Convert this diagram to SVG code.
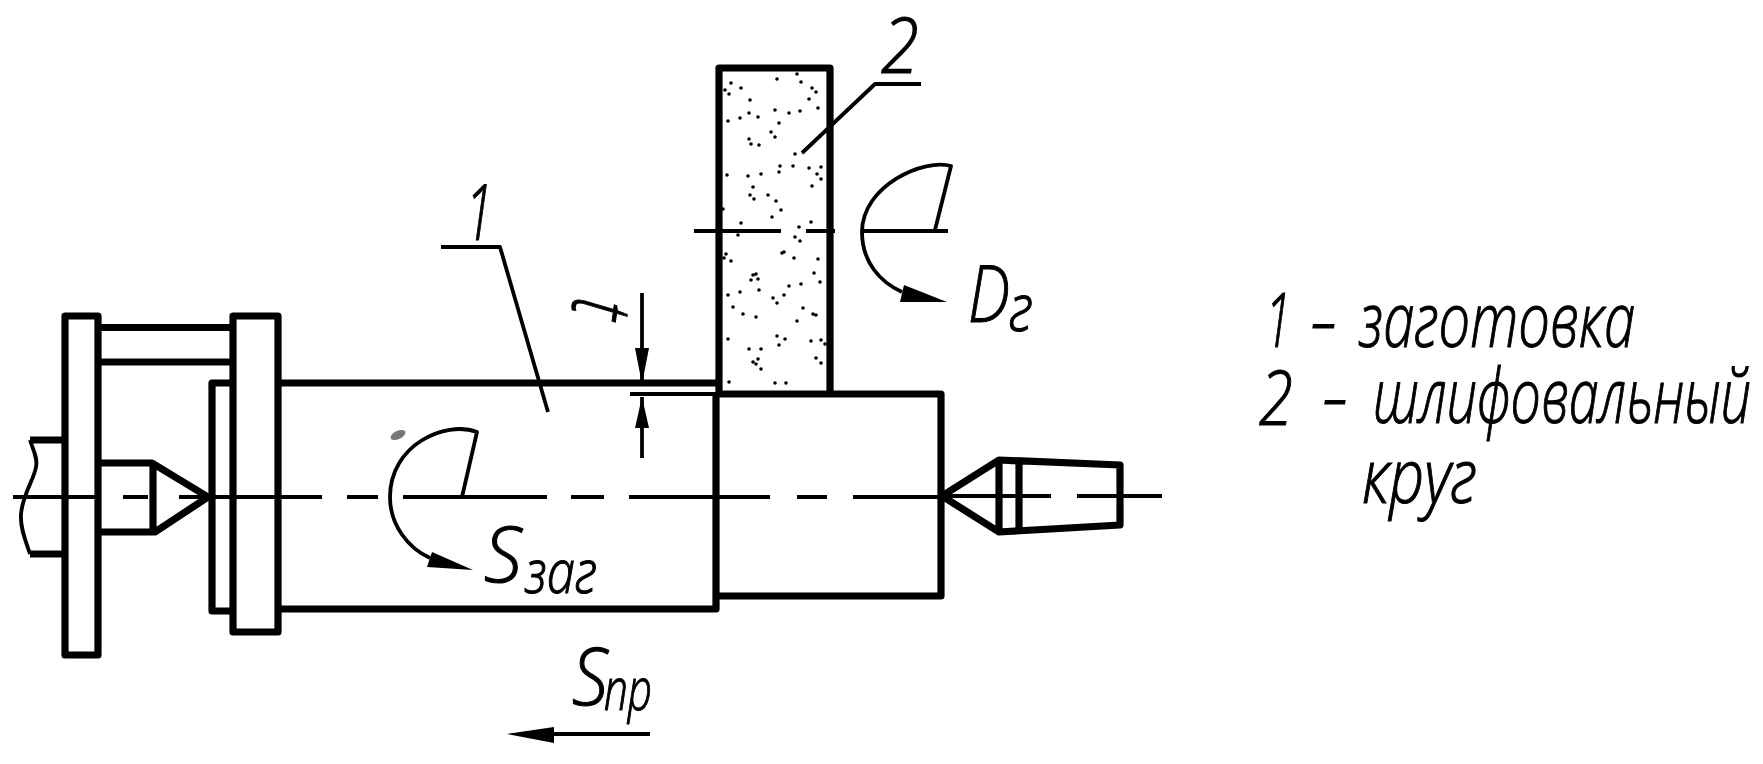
<svg xmlns="http://www.w3.org/2000/svg" width="1763" height="764" viewBox="0 0 1763 764">
<style>
.k{fill:none;stroke:#000;stroke-width:7.200;stroke-linejoin:round;stroke-linecap:butt}
.t{fill:none;stroke:#000;stroke-width:3.800;stroke-linecap:butt;stroke-linejoin:round}
.h{fill:#000;stroke:none}
text{font-family:"Open Sans","Liberation Sans","DejaVu Sans",sans-serif;font-style:italic;font-weight:300;fill:#000;stroke:#000;stroke-width:1.100}
</style>
<rect width="1763" height="764" fill="#fff"/>
<g id="spindle">
<path class="k" d="M62 440H30M62 554H30"/>
<path class="t" d="M30 440C33 450 38 458 36 467C34 480 22 495 21 515C20 528 26 542 30 554"/>
</g>
<g id="plate-left"><rect class="k" x="65" y="316" width="33" height="339"/></g>
<g id="bars"><path class="k" d="M101 327.500H230M101 362H230"/></g>
<g id="center-left"><path class="k" d="M98 463H152L208 497L155 532H98M153 463V532"/></g>
<g id="collar"><path class="k" d="M230 383H212V611H230"/></g>
<g id="plate-right"><rect class="k" x="233" y="316" width="45" height="316"/></g>
<g id="workpiece"><path class="k" d="M281 383H716M716 396V609H281"/></g>
<g id="ground-part"><path class="k" d="M716 394H941V596H716"/></g>
<g id="wheel">
<path class="k" d="M719 394V68H830V394"/>
<path fill="none" stroke="#000" stroke-width="3.600" stroke-linecap="round" d="M731 83h.01M725 90h.01M729 94h.01M741 88h.01M777 79h.01M797 74h.01M801 82h.01M812 88h.01M816 92h.01M809 99h.01M818 108h.01M750 100h.01M749 113h.01M758 117h.01M775 110h.01M789 113h.01M800 111h.01M740 118h.01M728 121h.01M779 123h.01M771 132h.01M775 137h.01M749 139h.01M751 144h.01M759 145h.01M795 154h.01M780 166h.01M779 172h.01M793 166h.01M809 168h.01M821 167h.01M817 174h.01M821 179h.01M812 186h.01M727 175h.01M748 176h.01M761 174h.01M753 187h.01M750 195h.01M754 199h.01M768 195h.01M776 201h.01M781 210h.01M772 217h.01M723 209h.01M741 223h.01M811 222h.01M799 227h.01M795 237h.01M800 241h.01M738 235h.01M784 252h.01M782 253h.01M794 258h.01M818 259h.01M726 254h.01M724 258h.01M731 261h.01M814 273h.01M753 275h.01M756 274h.01M758 279h.01M751 280h.01M820 282h.01M801 284h.01M789 286h.01M759 290h.01M784 295h.01M740 292h.01M728 295h.01M773 298h.01M777 303h.01M733 307h.01M743 314h.01M756 317h.01M803 308h.01M813 314h.01M816 315h.01M797 321h.01M777 336h.01M785 339h.01M779 345h.01M728 339h.01M811 341h.01M821 340h.01M825 344h.01M749 349h.01M761 349h.01M753 362h.01M758 359h.01M756 364h.01M761 369h.01M816 358h.01M821 363h.01M729 382h.01M775 383h.01M786 383h.01"/>
</g>
<g id="center-right">
<path class="k" d="M942 496L999 460L1120 465V525L999 532ZM999 460V532M1019 461V531"/>
</g>
<g id="connectors">
<path class="t" d="M13 497H95M123 497H148M179 497H322M347 497H378M403 497H547M571 497H604M629 497H770M797 497H827M853 497H942M942 496H1051M1077 496H1162"/>
<path class="t" d="M694 231H781M806 231H835M862 231H948"/>
<path class="t" d="M921 84H875L802 153"/>
<path class="t" d="M441 247H500L548 412"/>
<path class="t" d="M642 293V384M642 397V458M630 394H716"/>
<path class="h" d="M642 384L635 348H649Z"/>
<path class="h" d="M642 397L635 428H649Z"/>
<path class="t" d="M935 230L951 166C925 158 862 185 862 232C862 262 880 282 902 292"/>
<path class="h" d="M947 302L904 285L900 302Z"/>
<path class="t" d="M462 497L477 432C445 420 390 445 390 497C390 525 408 548 430 558"/>
<path class="h" d="M473 570L432 552L427 567Z"/>
<path class="t" d="M650 734H554"/>
<path class="h" d="M507 734L554 727V743Z"/>
</g>
<ellipse cx="398" cy="435" rx="8" ry="4" fill="#777" transform="rotate(-25 398 435)"/>
<g id="labels">
<text x="465" y="240" font-size="78" textLength="28" lengthAdjust="spacingAndGlyphs">1</text>
<text x="881" y="73" font-size="78" textLength="38" lengthAdjust="spacingAndGlyphs">2</text>
<text transform="translate(574 296) rotate(98) scale(.7 1)" font-size="84">t</text>
<text x="968" y="322" font-size="80" textLength="42" lengthAdjust="spacingAndGlyphs">D</text>
<text x="1009" y="331" font-size="66" textLength="24" lengthAdjust="spacingAndGlyphs">г</text>
<text x="484" y="582" font-size="78" textLength="38" lengthAdjust="spacingAndGlyphs">S</text>
<text x="525" y="593" font-size="60" textLength="72" lengthAdjust="spacingAndGlyphs">заг</text>
<text x="572" y="705" font-size="80" textLength="36" lengthAdjust="spacingAndGlyphs">S</text>
<text x="604" y="710" font-size="58" textLength="48" lengthAdjust="spacingAndGlyphs">пр</text>
</g>
<g id="legend">
<text x="1265" y="347" font-size="76" textLength="26" lengthAdjust="spacingAndGlyphs">1</text>
<text x="1311" y="347" font-size="76" textLength="25" lengthAdjust="spacingAndGlyphs">–</text>
<text x="1359" y="347" font-size="76" textLength="276" lengthAdjust="spacingAndGlyphs">заготовка</text>
<text x="1259" y="425" font-size="76" textLength="34" lengthAdjust="spacingAndGlyphs">2</text>
<text x="1323" y="423" font-size="76" textLength="24" lengthAdjust="spacingAndGlyphs">–</text>
<text x="1373" y="423" font-size="76" textLength="378" lengthAdjust="spacingAndGlyphs">шлифовальный</text>
<text x="1362" y="503" font-size="76" textLength="115" lengthAdjust="spacingAndGlyphs">круг</text>
</g>
</svg>
